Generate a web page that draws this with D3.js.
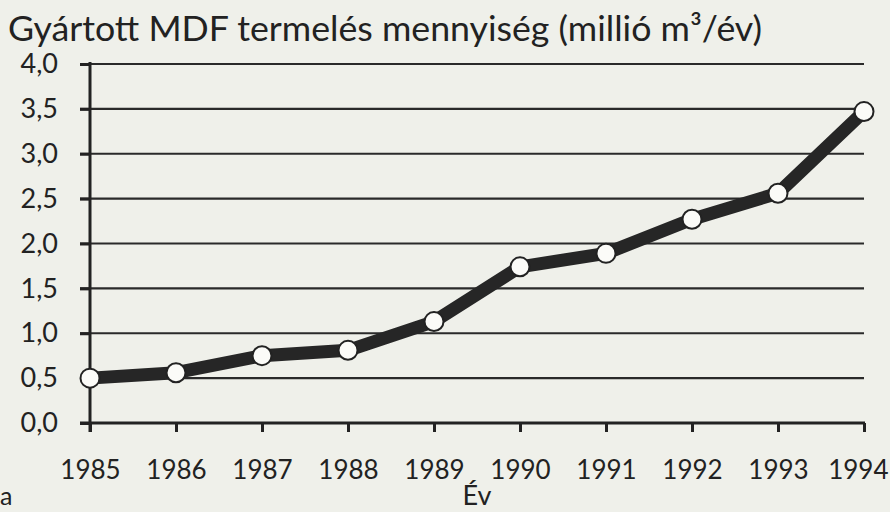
<!DOCTYPE html>
<html>
<head>
<meta charset="utf-8">
<script src="https://cdn.jsdelivr.net/npm/d3@7"></script>
<style>
  body { margin: 0; background: #eff0ea; }
  #chart { width: 890px; height: 512px; }
  text { font-family: "Lato", "Noto Sans", sans-serif; fill: #222; }
</style>
</head>
<body>
<div id="chart"></div>
<script>
// MDF production per year, million m3
const years = [1985, 1986, 1987, 1988, 1989, 1990, 1991, 1992, 1993, 1994];
const production = [0.50, 0.56, 0.75, 0.81, 1.13, 1.74, 1.89, 2.27, 2.56, 3.47];
const yTicks = [0, 0.5, 1, 1.5, 2, 2.5, 3, 3.5, 4];

let cvs = d3.select("#chart");
let width = 890, height = 512;
let margin = { top: 64, right: 26, bottom: 89, left: 90 };

let svg = cvs.append("svg")
    .attr("width", width)
    .attr("height", height);

let x = d3.scaleLinear()
    .domain([1985, 1994])
    .range([margin.left, width - margin.right]);

let y = d3.scaleLinear()
    .domain([0, 4])
    .range([height - margin.bottom, margin.top]);

// Horizontal grid lines with a small tick sticking out left
svg.append("g")
    .selectAll("line")
    .data(yTicks.slice(1))
    .join("line")
        .attr("x1", margin.left - 10)
        .attr("x2", width - margin.right)
        .attr("y1", d => y(d))
        .attr("y2", d => y(d))
        .attr("stroke", "#2a2a2a")
        .attr("stroke-width", 2.2);

// Y axis
let yAxis = svg.append("g")
    .attr("transform", "translate(" + margin.left + ",0)")
    .call(d3.axisLeft(y).tickValues(yTicks).tickSize(10).tickPadding(22)
        .tickFormat(d => d3.format(".1f")(d).replace(".", ",")));
yAxis.select(".domain").remove();
yAxis.selectAll("line").attr("stroke", "#222").attr("stroke-width", 3);
yAxis.selectAll("text").style("font-size", "27px").style("font-family", null).attr("fill", "#222");
svg.append("line")
    .attr("x1", margin.left).attr("x2", margin.left)
    .attr("y1", y(4) - 2).attr("y2", y(0) + 9)
    .attr("stroke", "#222").attr("stroke-width", 3);

// X axis
let xAxis = svg.append("g")
    .attr("transform", "translate(0," + y(0) + ")")
    .call(d3.axisBottom(x).tickValues(years).tickSize(9).tickPadding(29)
        .tickFormat(d3.format("d")));
xAxis.select(".domain").remove();
xAxis.selectAll("line").attr("stroke", "#222").attr("stroke-width", 3);
xAxis.selectAll("text").style("font-size", "26px").style("font-family", null).attr("fill", "#222");
// last year label sits against the right edge
xAxis.selectAll("text").filter(d => d === 1994)
    .attr("text-anchor", "end").attr("x", width - 2 - x(1994));
svg.append("line")
    .attr("x1", margin.left - 10).attr("x2", width - margin.right + 1)
    .attr("y1", y(0)).attr("y2", y(0))
    .attr("stroke", "#222").attr("stroke-width", 3);

// Data line
svg.append("path")
    .datum(production)
    .attr("fill", "none")
    .attr("stroke", "#262626")
    .attr("stroke-width", 13)
    .attr("stroke-linejoin", "round")
    .attr("d", d3.line()
        .x((d, i) => x(years[i]))
        .y(d => y(d)));

// Markers
svg.append("g")
    .selectAll("circle")
    .data(production)
    .join("circle")
        .attr("cx", (d, i) => x(years[i]))
        .attr("cy", d => y(d))
        .attr("r", 9.5)
        .attr("fill", "#fbfbf8")
        .attr("stroke", "#222")
        .attr("stroke-width", 2);

// Title and labels
svg.append("text")
    .text("Gyártott MDF termelés mennyiség (millió m³/év)")
    .attr("x", 8).attr("y", 41)
    .attr("textLength", 754)
    .attr("lengthAdjust", "spacingAndGlyphs")
    .style("font-size", "34px");

svg.append("text").text("Év")
    .attr("x", 477).attr("y", 505)
    .attr("text-anchor", "middle")
    .style("font-size", "27px");

svg.append("text").text("a")
    .attr("x", 0).attr("y", 505)
    .style("font-size", "25px");
</script>
</body>
</html>
